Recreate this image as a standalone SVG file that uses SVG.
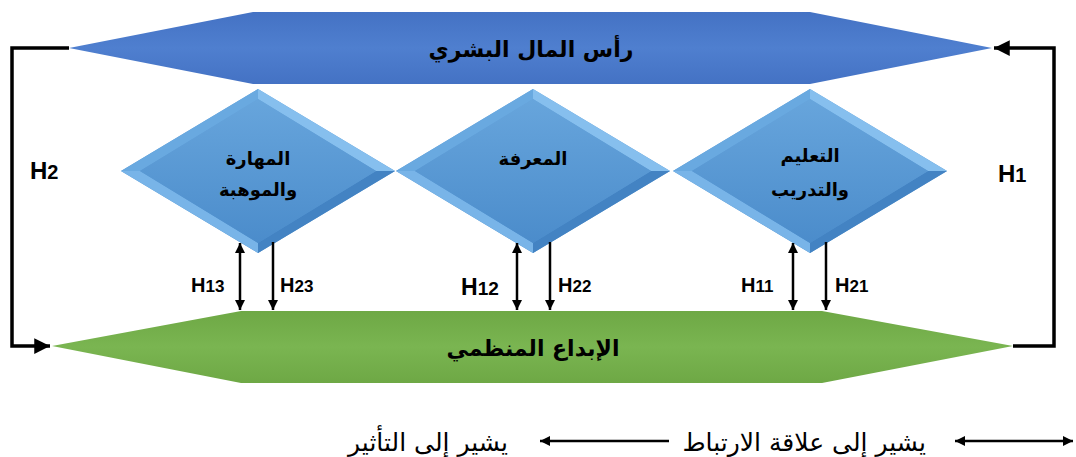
<svg xmlns="http://www.w3.org/2000/svg" width="1076" height="457" viewBox="0 0 1076 457">
<style>
.ar{font-family:"DejaVu Sans",sans-serif;font-weight:bold;fill:#000;text-anchor:middle}
.h{font-family:"Liberation Sans",Arial,sans-serif;font-weight:bold;fill:#000}
.leg{font-family:"DejaVu Sans",sans-serif;fill:#000;font-size:25px}
.ln{stroke:#000;fill:none}
</style>
<defs>
<linearGradient id="gBlue" x1="0" y1="0" x2="0" y2="1">
<stop offset="0" stop-color="#4472c4"/><stop offset="0.5" stop-color="#4f7fcf"/><stop offset="1" stop-color="#4472c4"/>
</linearGradient>
<linearGradient id="gGreen" x1="0" y1="0" x2="0" y2="1">
<stop offset="0" stop-color="#6ea845"/><stop offset="0.5" stop-color="#7ab551"/><stop offset="1" stop-color="#6ea845"/>
</linearGradient>
<linearGradient id="gDia" x1="0" y1="0" x2="0" y2="1">
<stop offset="0" stop-color="#67a5dc"/><stop offset="1" stop-color="#4b8ccb"/>
</linearGradient>
<marker id="ah" viewBox="0 0 10 10" refX="10" refY="5" markerWidth="4" markerHeight="4" orient="auto-start-reverse">
<path d="M0,0 L10,5 L0,10 z" fill="#000"/>
</marker>
<marker id="ahb" viewBox="0 0 10 10" refX="10" refY="5" markerWidth="4.5" markerHeight="4.5" orient="auto-start-reverse">
<path d="M0,0 L10,5 L0,10 z" fill="#000"/>
</marker>
<g id="dia">
<polygon points="0,-82 137,0 0,82 -137,0" fill="url(#gDia)"/>
<polygon points="0,-82 -137,0 -118,0 0,-72" fill="#69a9e0"/>
<polygon points="0,-82 137,0 118,0 0,-72" fill="#86bfee"/>
<polygon points="137,0 0,82 0,72 118,0" fill="#4383c3"/>
<polygon points="-137,0 0,82 0,72 -118,0" fill="#78b4e8"/>
<polygon points="0,-72 118,0 0,72 -118,0" fill="url(#gDia)"/>
</g>
</defs>

<g id="human-capital">
<polygon points="69,48 253,12 810,12 992,48 810,84 253,84" fill="url(#gBlue)"/>
<text class="ar" x="531" y="57" font-size="22">رأس المال البشري</text>
</g>

<g id="org-creativity">
<polygon points="52,346 241,311 822,311 1013,346 822,383 241,383" fill="url(#gGreen)"/>
<text class="ar" x="533" y="356" font-size="22">الإبداع المنظمي</text>
</g>

<g id="skill">
<use href="#dia" transform="translate(258,171)"/>
<text class="ar" x="258" y="165" font-size="18">المهارة</text>
<text class="ar" x="258" y="196" font-size="18">والموهبة</text>
</g>

<g id="knowledge">
<use href="#dia" transform="translate(533,171)"/>
<text class="ar" x="533" y="165" font-size="18">المعرفة</text>
</g>

<g id="education">
<use href="#dia" transform="translate(810,171)"/>
<text class="ar" x="810" y="162" font-size="18">التعليم</text>
<text class="ar" x="810" y="196" font-size="18">والتدريب</text>
</g>

<g id="connectors">
<polyline class="ln" stroke-width="3.5" points="69,48 12,48 12,346 50,346" marker-end="url(#ahb)"/>
<polyline class="ln" stroke-width="3.5" points="1013,346 1054,346 1054,48 994,48" marker-end="url(#ahb)"/>
<line class="ln" stroke-width="2.5" x1="240" y1="243" x2="240" y2="310" marker-start="url(#ah)" marker-end="url(#ah)"/>
<line class="ln" stroke-width="2.5" x1="273" y1="242" x2="273" y2="310" marker-end="url(#ah)"/>
<line class="ln" stroke-width="2.5" x1="517" y1="243" x2="517" y2="310" marker-start="url(#ah)" marker-end="url(#ah)"/>
<line class="ln" stroke-width="2.5" x1="550" y1="242" x2="550" y2="310" marker-end="url(#ah)"/>
<line class="ln" stroke-width="2.5" x1="793" y1="243" x2="793" y2="310" marker-start="url(#ah)" marker-end="url(#ah)"/>
<line class="ln" stroke-width="2.5" x1="826" y1="242" x2="826" y2="310" marker-end="url(#ah)"/>
</g>

<g id="labels">
<text class="h" x="30" y="179" font-size="24">H<tspan font-size="20">2</tspan></text>
<text class="h" x="998" y="182" font-size="24">H<tspan font-size="20">1</tspan></text>
<text class="h" x="191" y="292" font-size="20">H<tspan font-size="17">13</tspan></text>
<text class="h" x="280" y="292" font-size="20">H<tspan font-size="17">23</tspan></text>
<text class="h" x="461" y="295" font-size="23">H<tspan font-size="19">12</tspan></text>
<text class="h" x="558" y="292" font-size="20">H<tspan font-size="17">22</tspan></text>
<text class="h" x="741" y="292" font-size="20">H<tspan font-size="17">11</tspan></text>
<text class="h" x="835" y="292" font-size="20">H<tspan font-size="17">21</tspan></text>
</g>

<g id="legend">
<text class="leg" x="508" y="451" text-anchor="end">يشير إلى التأثير</text>
<line class="ln" stroke-width="2.5" x1="669" y1="441" x2="540" y2="441" marker-end="url(#ah)"/>
<text class="leg" x="926" y="451" text-anchor="end">يشير إلى علاقة الارتباط</text>
<line class="ln" stroke-width="2.5" x1="955" y1="441" x2="1073" y2="441" marker-start="url(#ah)" marker-end="url(#ah)"/>
</g>
</svg>
